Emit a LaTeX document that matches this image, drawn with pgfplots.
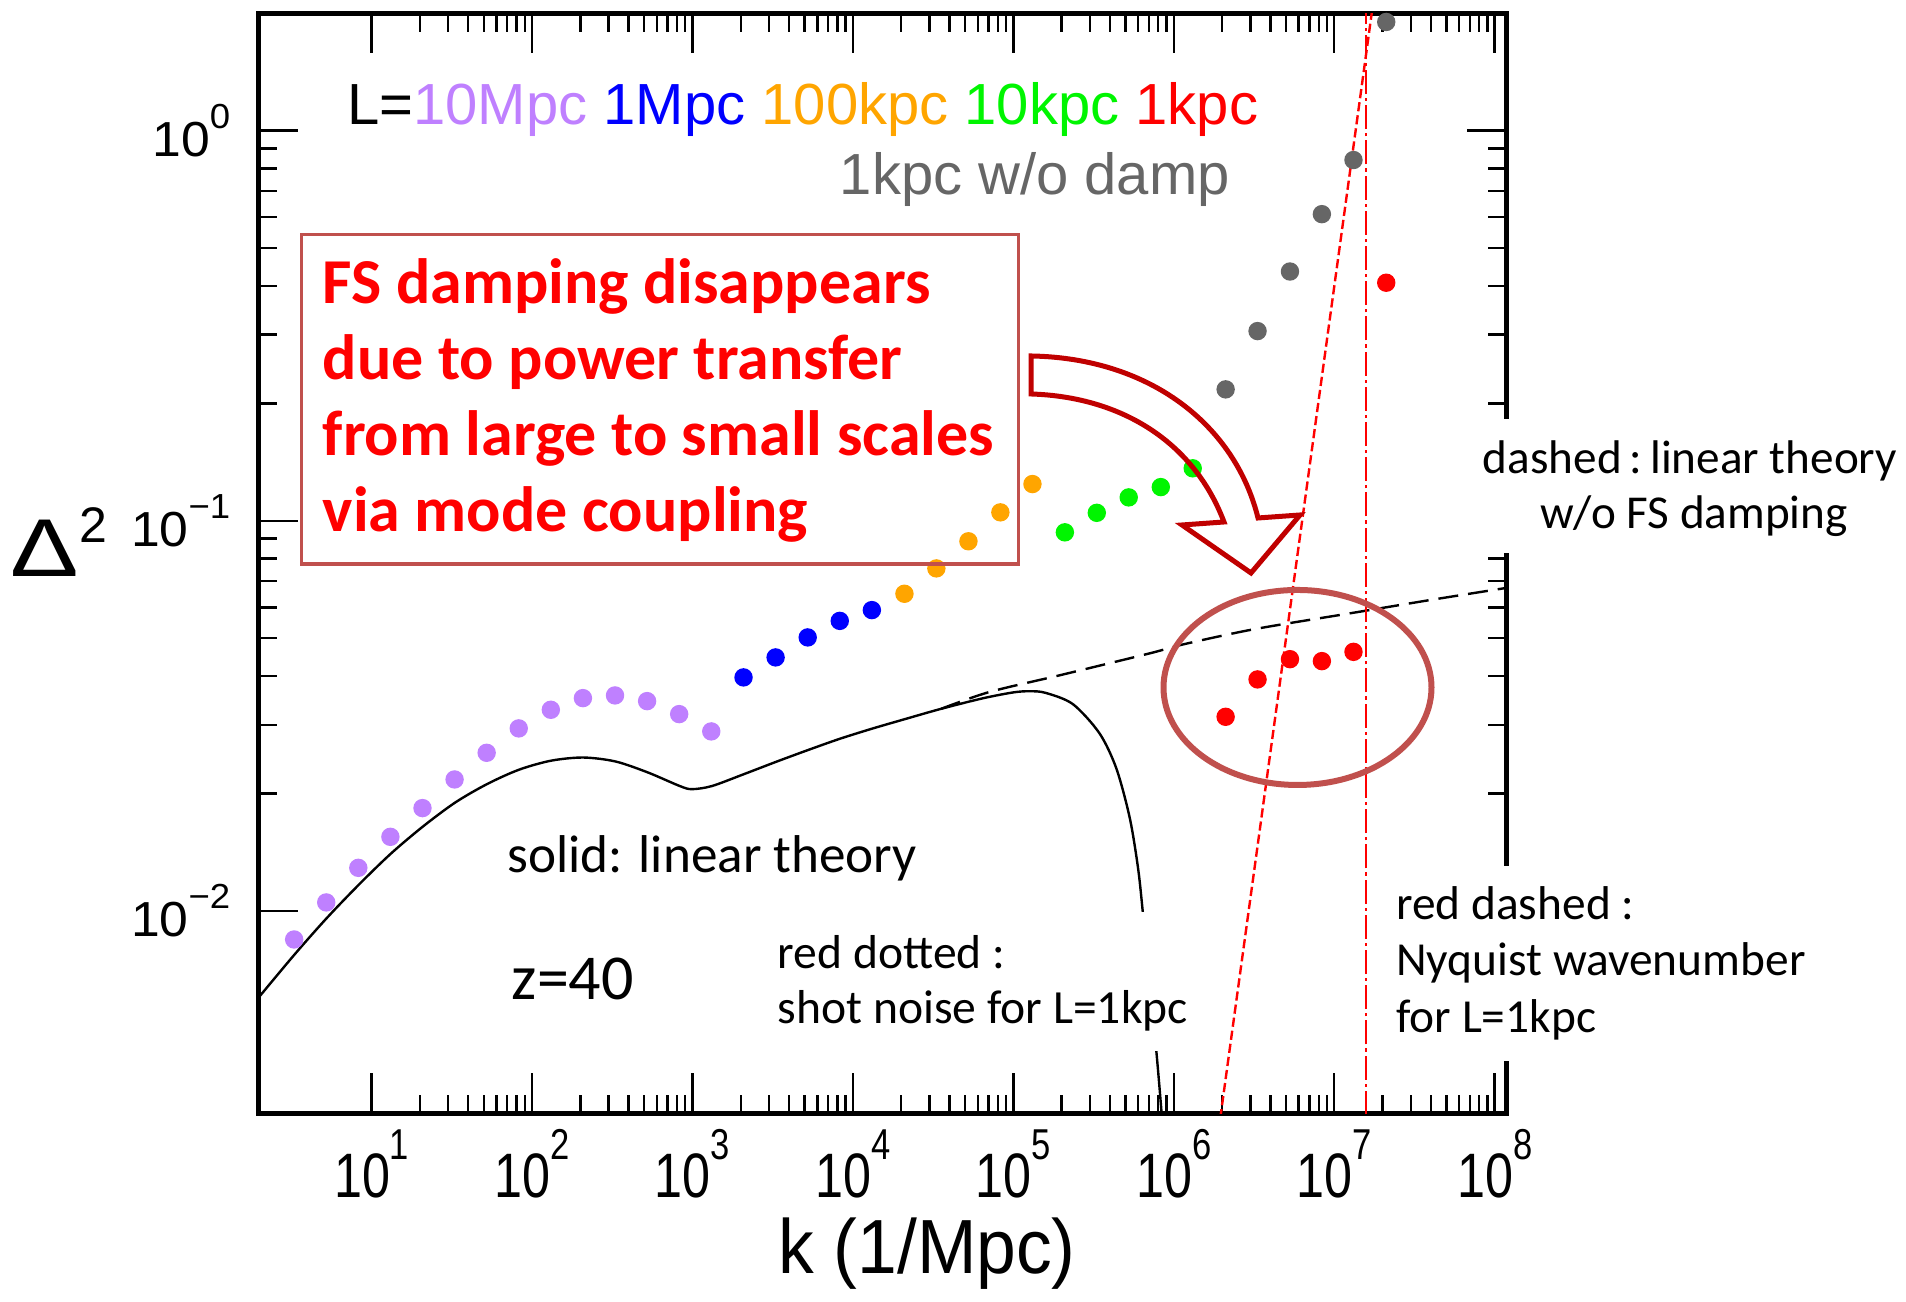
\documentclass[border=0pt]{standalone}
\usepackage{fontspec}
\setmainfont{Liberation Sans}
\newfontfamily\calib{Carlito}
\usepackage{graphicx}
\usepackage{xcolor}
\usepackage{pgfplots}
\pgfplotsset{compat=1.18}

\definecolor{cpurple}{RGB}{191,128,255}
\definecolor{cblue}{RGB}{0,0,255}
\definecolor{corange}{RGB}{255,165,0}
\definecolor{cgreen}{RGB}{0,245,0}
\definecolor{cred}{RGB}{255,0,0}
\definecolor{cgray}{RGB}{102,102,102}
\definecolor{boxred}{RGB}{192,80,77}
\definecolor{arrowred}{RGB}{192,0,0}

% tick labels
\newcommand{\xt}[1]{\scalebox{0.8}[1]{\fontsize{15.7}{16}\selectfont 10\raisebox{9.5pt}{\fontsize{10.8}{11}\selectfont #1}}}
\newcommand{\yt}[1]{\scalebox{1.05}[1]{\fontsize{12.3}{13}\selectfont 10\raisebox{7pt}{\fontsize{8.7}{9}\selectfont #1}}}

\begin{document}
\begin{tikzpicture}
\begin{axis}[
  at={(0pt,0pt)}, anchor=south west,
  scale only axis, width=312.1pt, height=275pt,
  xmode=log, ymode=log,
  xmin=1.966, xmax=1.1885e8,
  ymin=0.003027, ymax=2.0,
  xtick={10,100,1000,10000,100000,1000000,10000000,100000000},
  xticklabels={\xt{1},\xt{2},\xt{3},\xt{4},\xt{5},\xt{6},\xt{7},\xt{8}},
  ytick={0.01,0.1,1},
  yticklabels={\yt{−2},\yt{−1},\yt{0}},
  xticklabel style={anchor=north, inner sep=0pt, yshift=-3.85pt},
  yticklabel style={anchor=east, inner sep=0pt, xshift=-6.8pt},
  axis line style={line width=1.3pt},
  tick style={line width=0.6pt, black},
  major tick length=10pt,
  minor tick length=4.6pt,
]
% linear theory (solid)
\addplot[black, line width=0.6pt, smooth] coordinates {
  (1.950,0.005957) (3.289,0.007709) (5.212,0.009550) (8.356,0.01169)
  (13.21,0.01403) (20.99,0.01648) (33.27,0.01897) (52.36,0.02113)
  (82.99,0.02301) (131.8,0.02427) (208.9,0.02472) (331.1,0.02415)
  (524.8,0.02265) (833.7,0.02089) (990.8,0.02051) (1321,0.02089)
  (2080,0.02239) (3319,0.02410) (5224,0.02582) (8279,0.02761)
  (13152,0.02931) (20845,0.03097) (35481,0.03296) (64715,0.03508)
  (100000,0.03631) (125893,0.03656) (158489,0.03622) (234963,0.03388)
  (344350,0.02851) (438531,0.02317) (530884,0.01734) (597035,0.01297)
  (641210,0.009908) (778037,0.004375) (851138,0.002818)
};
% linear theory without FS damping (dashed)
\addplot[black, line width=0.6pt, dash pattern=on 5pt off 2.5pt, smooth] coordinates {
  (35481,0.03296) (71121,0.03641) (199526,0.04027) (706318,0.04571)
  (1140250,0.04819) (3162278,0.05272) (12445146,0.05788)
  (39810717,0.06266) (118850222,0.06730)
};
% shot noise for L=1kpc
\addplot[cred, line width=0.6pt, dash pattern=on 2.3pt off 1pt] coordinates {
  (1585000,0.001585) (19950000,3.162)
};
% Nyquist wavenumber for L=1kpc
\addplot[cred, line width=0.6pt, dash pattern=on 6pt off 1pt on 0.8pt off 1pt] coordinates {
  (1.58e7,0.003) (1.58e7,2.0)
};
% L=10Mpc
\addplot[only marks, mark=*, mark size=2.1pt, cpurple] coordinates {
  (3.289,0.008445) (5.212,0.01051) (8.260,0.01289) (13.09,0.01548)
  (20.75,0.01834) (32.89,0.02172) (52.12,0.02542) (82.60,0.02936)
  (130.9,0.03277) (207.5,0.03511) (328.9,0.03567) (521.2,0.03449)
  (826.0,0.03194) (1309,0.02884)
};
% L=1Mpc
\addplot[only marks, mark=*, mark size=2.1pt, cblue] coordinates {
  (2080,0.03968) (3296,0.04464) (5224,0.05023) (8279,0.05538) (13122,0.05902)
};
% L=100kpc
\addplot[only marks, mark=*, mark size=2.1pt, corange] coordinates {
  (20941,0.0650) (33113,0.0755) (52481,0.0886) (82985,0.1051) (131522,0.1242)
};
% L=10kpc
\addplot[only marks, mark=*, mark size=2.1pt, cgreen] coordinates {
  (209411,0.0934) (331131,0.1048) (523600,0.1148) (829851,0.1220) (1312204,0.1363)
};
% L=1kpc w/o damp
\addplot[only marks, mark=*, mark size=2.1pt, cgray] coordinates {
  (2.104e6,0.2172) (3.327e6,0.3064) (5.297e6,0.4355) (8.375e6,0.611)
  (1.318e7,0.841) (2.109e7,1.90)
};
% L=1kpc
\addplot[only marks, mark=*, mark size=2.1pt, cred] coordinates {
  (2.104e6,0.03144) (3.327e6,0.03921) (5.297e6,0.04418) (8.375e6,0.04367)
  (1.318e7,0.04613) (2.109e7,0.4076)
};
\end{axis}

% annotations, in pixel units of the 1906x1302 reference
\begin{scope}[x=0.25pt, y=-0.25pt, xshift=-64.575pt, yshift=278.325pt]
\useasboundingbox (0,0) rectangle (1906,1302);

\node[anchor=base west, inner sep=0pt] at (10,577)
  {\scalebox{1.25}[1]{\fontsize{20.5}{22}\selectfont Δ}\raisebox{8.5pt}{\fontsize{12.5}{13}\selectfont 2}};
\node[anchor=base, inner sep=0pt] at (927,1274)
  {\scalebox{0.93}[1]{\fontsize{19.2}{21}\selectfont k (1/Mpc)}};

\node[anchor=base west, inner sep=0pt, font=\fontsize{14.5}{17}\selectfont] at (346.5,125)
  {L=\textcolor{cpurple}{10Mpc} \textcolor{cblue}{1Mpc} \textcolor{corange}{100kpc} \textcolor{cgreen}{10kpc} \textcolor{cred}{1kpc}};
\node[anchor=base west, inner sep=0pt, font=\fontsize{14.5}{17}\selectfont, text=cgray] at (839,194.5)
  {1kpc w/o damp};

\draw[boxred, line width=0.8pt] (301.5,234.6) rectangle (1018.7,564);
\begin{scope}[every node/.style={anchor=base west, inner sep=0pt, text=cred, font=\calib\bfseries\fontsize{16}{19}\selectfont}]
\node at (322,304) {FS damping disappears};
\node at (322,380) {due to power transfer};
\node at (322,456) {from large to small scales};
\node at (322,532) {via mode coupling};
\end{scope}

\draw[arrowred, line width=1.25pt, line join=miter]
  (1031,356) .. controls (1150,358) and (1235,425) .. (1258,518)
  -- (1300,515) -- (1251,573) -- (1182,525) -- (1224,522)
  .. controls (1195,445) and (1125,397) .. (1031,394) -- cycle;
\draw[boxred, line width=1.5pt] (1297.5,687.5) ellipse [x radius=134, y radius=97.5];

\node[anchor=base west, inner sep=0pt, font=\calib\fontsize{13.3}{16}\selectfont] at (506.6,873)
  {solid: linear theory};
\node[anchor=base west, inner sep=0pt, font=\calib\fontsize{16}{19}\selectfont] at (511,1000)
  {z=40};

\fill[white] (765,912) rectangle (1197,1051);
\node[anchor=base west, inner sep=0pt, font=\calib\fontsize{11.9}{14}\selectfont] at (777,968.3) {red dotted :};
\node[anchor=base west, inner sep=0pt, font=\calib\fontsize{11.9}{14}\selectfont] at (777,1023.3) {shot noise for L=1kpc};

\fill[white] (1460,419) rectangle (1906,553);
\node[anchor=base, inner sep=0pt, font=\calib\fontsize{11.8}{14}\selectfont] at (1690,474) {dashed\,:\,linear theory};
\node[anchor=base, inner sep=0pt, font=\calib\fontsize{11.8}{14}\selectfont] at (1694,529) {w/o FS damping};

\fill[white] (1385,866) rectangle (1830,1061);
\node[anchor=base west, inner sep=0pt, font=\calib\fontsize{11.85}{14}\selectfont] at (1395.5,920) {red dashed :};
\node[anchor=base west, inner sep=0pt, font=\calib\fontsize{11.85}{14}\selectfont] at (1395.5,976) {Nyquist wavenumber};
\node[anchor=base west, inner sep=0pt, font=\calib\fontsize{11.85}{14}\selectfont] at (1395.5,1033) {for L=1kpc};
\end{scope}
\end{tikzpicture}
\end{document}
